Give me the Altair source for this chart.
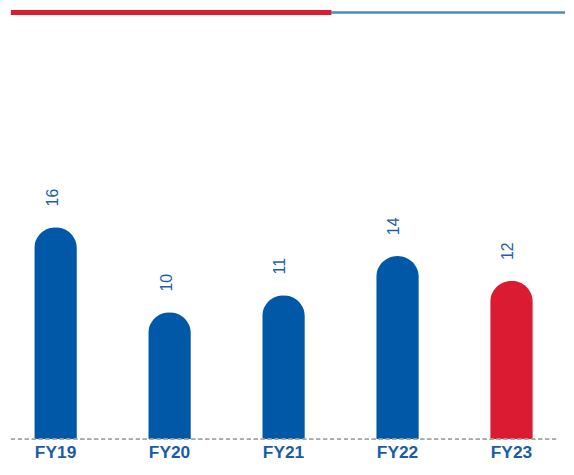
import altair as alt
import pandas as pd

years = ["FY19", "FY20", "FY21", "FY22", "FY23"]
values = [16.2, 9.7, 11.0, 14.0, 12.1]
labels = ["16", "10", "11", "14", "12"]
groups = ["past", "past", "past", "past", "current"]

BLUE = "#0058A7"
RED = "#DB1B32"
TXT = "#1E5FAA"
FONT = "Liberation Sans"

df = pd.DataFrame({"year": years, "value": values, "label": labels, "grp": groups})

x = alt.X(
    "year:N",
    sort=years,
    scale=alt.Scale(paddingInner=0.626, paddingOuter=0.2478, align=0.412),
    axis=alt.Axis(
        title=None, domain=False, ticks=False, grid=False, labelAngle=0,
        labelFont=FONT, labelFontSize=17.5, labelFontWeight="bold",
        labelColor="#1A5CA8", labelPadding=4,
    ),
)
y = alt.Y("value:Q", scale=alt.Scale(domain=[0, 32.8], nice=False, zero=True), axis=None)

bars = alt.Chart(df).mark_bar(
    cornerRadiusTopLeft=21.5, cornerRadiusTopRight=21.5
).encode(
    x=x, y=y,
    color=alt.Color("grp:N", scale=alt.Scale(domain=["past", "current"], range=[BLUE, RED]), legend=None),
)

text = alt.Chart(df).mark_text(
    angle=270, align="left", baseline="middle", dx=21, dy=-3,
    font=FONT, fontSize=16, color=TXT,
).encode(x=x, y=y, text="label:N")

baseline = alt.Chart(df).mark_rule(
    color="#A8A8A8", strokeWidth=1, strokeDash=[4, 3]
).encode(x=alt.value(0), x2=alt.value(550), y=alt.value(433))

red_line = alt.Chart(df).mark_rule(color=RED, strokeWidth=5).encode(
    x=alt.value(0), x2=alt.value(323), y=alt.value(2.5)
)
blue_line = alt.Chart(df).mark_rule(color="#4A8CC6", strokeWidth=1.5).encode(
    x=alt.value(323), x2=alt.value(559), y=alt.value(2.5)
)

chart = alt.layer(bars, baseline, text, red_line, blue_line).properties(
    width=560, height=433, padding=0
).configure_view(stroke=None)

chart.save("out.html", embed_options={"renderer": "svg", "actions": False})
